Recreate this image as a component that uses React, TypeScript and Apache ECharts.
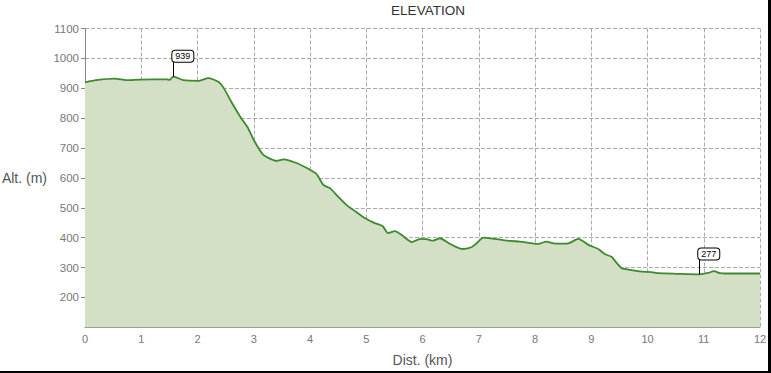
import React, { useEffect, useRef } from "react";
import * as echarts from "echarts";

const distKm = [
  0, 0.2, 0.53, 0.74, 0.98, 1.45, 1.5, 1.57, 1.75, 2.03, 2.19, 2.37, 2.46, 2.6, 2.76, 2.9,
  3.02, 3.17, 3.41, 3.53, 3.77, 4.0, 4.12, 4.24, 4.36, 4.5, 4.65, 4.77, 4.98, 5.16, 5.29,
  5.39, 5.51, 5.63, 5.81, 5.96, 6.07, 6.19, 6.31, 6.49, 6.7, 6.87, 6.96, 7.08, 7.32, 7.56,
  7.73, 8.06, 8.2, 8.36, 8.59, 8.77, 8.95, 9.13, 9.24, 9.36, 9.45, 9.54, 9.72, 9.9, 10.07,
  10.19, 10.52, 10.92, 10.99, 11.08, 11.18, 11.29, 11.38, 12,
];
const altM = [
  920, 927, 932, 927, 929, 930, 928, 939, 927, 925, 934, 922, 903, 855, 805, 766,
  720, 677, 657, 662, 649, 627, 612, 576, 565, 537, 509, 493, 465, 448, 439,
  415, 422, 409, 385, 396, 395, 390, 398, 379, 362, 368, 381, 400, 395, 389,
  387, 379, 387, 380, 381, 396, 376, 361, 345, 336, 316, 298, 291, 286, 285,
  281, 279, 277, 279, 282, 288, 281, 280, 280,
];
const markKm = [1.57, 10.92];
const markAlt = [939, 277];
const yTicks = [200, 300, 400, 500, 600, 700, 800, 900, 1000, 1100];
const xTicks = [0, 1, 2, 3, 4, 5, 6, 7, 8, 9, 10, 11, 12];

const FONT = "'Liberation Sans', Arial, sans-serif";

export default function App() {
  const ref = useRef<HTMLDivElement>(null);
  useEffect(() => {
    if (!ref.current) return;
    const chart = echarts.init(ref.current, null, { renderer: "svg" });
    const data = distKm.map((d, i) => [d, altM[i]]);
    const stem = 50;
    chart.setOption({
      animation: false,
      backgroundColor: "#fff",
      title: {
        text: "ELEVATION",
        left: 423,
        top: 0,
        padding: [3, 5, 5, 5],
        textAlign: "center",
        textStyle: { fontSize: 13.5, fontWeight: "normal", color: "#333", fontFamily: FONT },
      },
      grid: { left: 85, right: 11, top: 28.5, bottom: 45.7, containLabel: false, outerBoundsMode: "none" },
      xAxis: {
        type: "value",
        min: xTicks[0],
        max: xTicks[xTicks.length - 1],
        interval: 1,
        name: "Dist. (km)",
        nameLocation: "middle",
        nameGap: 26,
        nameTextStyle: { fontSize: 14, color: "#555", fontFamily: FONT },
        axisLine: { show: true, lineStyle: { color: "#888", width: 1 } },
        axisTick: { show: false },
        axisLabel: { color: "#777", fontSize: 11, margin: 6, fontFamily: FONT },
        splitLine: { show: true, lineStyle: { color: "#aaa", type: [4, 2], width: 1 } },
      },
      yAxis: {
        type: "value",
        min: 100,
        max: yTicks[yTicks.length - 1],
        interval: 100,
        name: "Alt. (m)",
        nameLocation: "middle",
        nameRotate: 0,
        nameGap: 38,
        nameTextStyle: { fontSize: 14, color: "#555", fontFamily: FONT },
        axisLine: { show: true, lineStyle: { color: "#888", width: 1 } },
        axisTick: { show: true, length: 4, lineStyle: { color: "#888" } },
        axisLabel: {
          color: "#777",
          fontSize: 11.5,
          margin: 6,
          fontFamily: FONT,
          showMinLabel: false,
          formatter: (v: number) => String(v),
        },
        splitLine: { show: true, lineStyle: { color: "#aaa", type: [4, 2], width: 1 } },
      },
      series: [
        {
          type: "line",
          data,
          smooth: 0.2,
          symbol: "none",
          lineStyle: { color: "#3b8a2c", width: 1.8 },
          areaStyle: { color: "#d4e0c6", opacity: 1, origin: "start" },
          markLine: {
            silent: true,
            symbol: "none",
            label: { show: false },
            lineStyle: { color: "#000", width: 1, type: "solid" },
            data: markKm.map((k, i) => [
              { coord: [k, markAlt[i]] },
              { coord: [k, markAlt[i] + stem] },
            ]),
          },
          markPoint: {
            silent: true,
            symbol: "circle",
            symbolSize: 0,
            data: markKm.map((k, i) => ({ coord: [k, markAlt[i] + stem], value: markAlt[i] })),
            label: {
              show: true,
              position: "top",
              distance: 0,
              align: "left",
              verticalAlign: "bottom",
              formatter: "{c}",
              fontSize: 9,
              color: "#000",
              fontFamily: FONT,
              backgroundColor: "#fff",
              borderColor: "#000",
              borderWidth: 1,
              borderRadius: 3,
              padding: [1, 3, 1, 3],
              offset: [-1, 0],
            },
          },
        },
      ],
      graphic: [
        { type: "rect", left: 768, top: 0, shape: { width: 3, height: 373 }, style: { fill: "#000" }, silent: true },
        { type: "rect", left: 0, top: 371, shape: { width: 771, height: 2 }, style: { fill: "#000" }, silent: true },
      ],
    });
    return () => chart.dispose();
  }, []);
  return <div ref={ref} style={{ position: "fixed", left: 0, top: 0, width: 771, height: 373 }} />;
}
